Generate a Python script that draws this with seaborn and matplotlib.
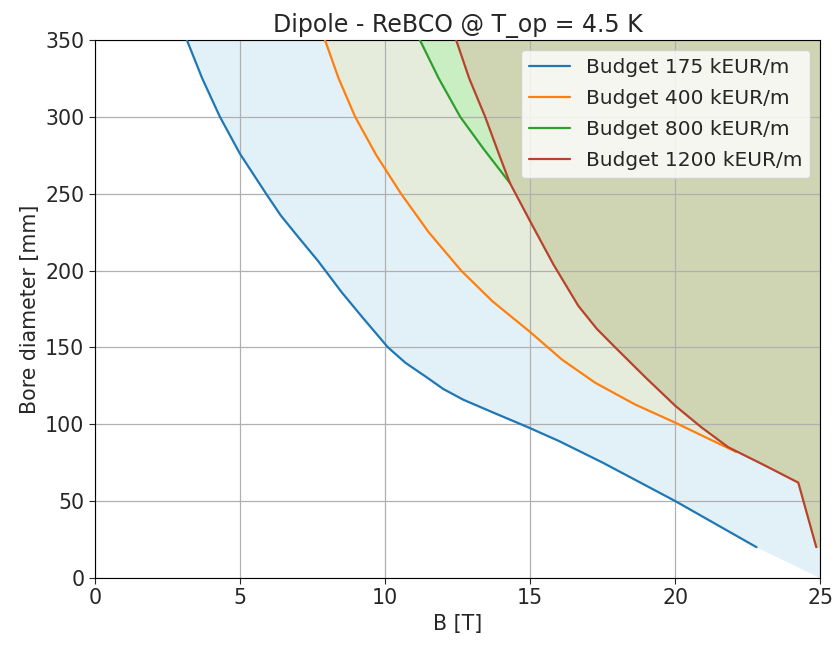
import numpy as np
import pandas as pd
import seaborn as sns
import matplotlib
matplotlib.use("Agg")
import matplotlib.pyplot as plt

# curves: B [T] vs bore diameter [mm]
b_175 = [3.17, 3.7, 4.31, 5.0, 5.9, 6.4, 7.0, 7.7, 8.5, 9.2, 10.1, 10.7, 11.4,
         12.0, 12.69, 13.8, 14.93, 16.0, 17.5, 18.8, 20.0, 21.4, 22.8]
d_175 = [350, 325, 300, 276, 250, 236, 222, 206, 186, 170, 150, 140, 131,
         123, 116, 107, 98, 89, 75, 62, 50, 35, 20]

b_400 = [7.93, 8.4, 8.97, 9.7, 10.55, 11.5, 12.62, 13.7, 15.0, 16.1, 17.24,
         18.6, 20.0, 21.1, 22.1]
d_400 = [350, 325, 300, 275, 250, 225, 200, 180, 160, 142, 127,
         113, 101, 91, 82]

b_800 = [11.2, 11.85, 12.59, 13.4, 14.3]
d_800 = [350, 325, 300, 279, 257]

b_1200 = [12.45, 12.9, 13.45, 13.9, 14.3, 15.03, 15.8, 16.66, 17.3, 17.93,
          19.0, 20.0, 20.9, 21.83, 23.0, 24.24, 24.86]
d_1200 = [350, 325, 300, 277, 257, 231, 204, 177, 162, 150,
          130, 112, 98, 85, 74, 62, 20]

labels = ["Budget 175 kEUR/m", "Budget 400 kEUR/m",
          "Budget 800 kEUR/m", "Budget 1200 kEUR/m"]
line_colors = ["#1f77b4", "#ff7f0e", "#2ca02c", "#b8432b"]
fill_colors = ["#e2f1f8", "#e6ecdc", "#c9eec1", "#cfd5b3"]

curves = [(b_175, d_175), (b_400, d_400), (b_800, d_800), (b_1200, d_1200)]
# where each shaded area closes at the right edge (B = 25)
fill_ends = [0, 82, 257, 20]

df = pd.concat([pd.DataFrame({"B": b, "D": d, "budget": lab})
                for (b, d), lab in zip(curves, labels)], ignore_index=True)

sns.set_style("ticks")
plt.rcParams["font.family"] = ["DejaVu Sans"]
plt.rcParams["font.size"] = 14.8

fig, ax = plt.subplots(figsize=(8.32, 6.45), dpi=100)
fig.subplots_adjust(left=0.114, right=0.986, top=0.938, bottom=0.104)

for (b, d), end, fc in zip(curves, fill_ends, fill_colors):
    ax.fill_between(b + [25], d + [end], 350, color=fc, linewidth=0, zorder=1)

sns.lineplot(data=df, x="B", y="D", hue="budget", palette=line_colors,
             sort=False, estimator=None, linewidth=1.6, ax=ax, zorder=3)

ax.set_xlim(0, 25)
ax.set_ylim(0, 350)
ax.set_xticks([0, 5, 10, 15, 20, 25])
ax.set_yticks(np.arange(0, 351, 50))
ax.set_axisbelow("line")
ax.grid(True, color="#b0b0b0", linewidth=0.9)
ax.tick_params(labelsize=14.8, direction="out", length=4)
ax.set_xlabel("B [T]", fontsize=14.8)
ax.set_ylabel("Bore diameter [mm]", fontsize=14.8)
ax.set_title("Dipole - ReBCO @ T_op = 4.5 K", fontsize=17)
for s in ax.spines.values():
    s.set_color("black")

handles, _ = ax.get_legend_handles_labels()
ax.legend(handles, labels, loc="upper right", fontsize=14.5, frameon=True,
          framealpha=0.8, edgecolor="0.8", labelspacing=0.6)

fig.savefig("out.png", dpi=100)
